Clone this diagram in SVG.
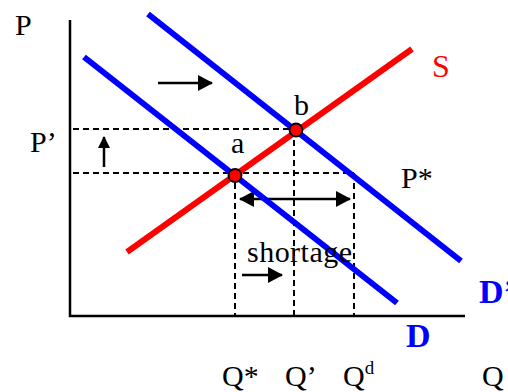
<svg xmlns="http://www.w3.org/2000/svg" width="508" height="392" viewBox="0 0 508 392">
<style>
.t{font-family:"Liberation Serif","Times New Roman",serif;font-size:30px;fill:#000}
.axis{stroke:#000;stroke-width:2.5;fill:none}
.dash{stroke:#000;stroke-width:2;stroke-dasharray:6 4;fill:none}
.arr{stroke:#000;stroke-width:2.5;fill:none}
.dem{stroke:#0000ff;stroke-width:6;fill:none}
.sup{stroke:#ff0000;stroke-width:6;fill:none}
.pt{fill:#ff0000;stroke:#000;stroke-width:1.8}
.bl{font-family:"Liberation Serif","Times New Roman",serif;font-size:34px;font-weight:bold;fill:#0000ff}
</style>
<defs>
<marker id="ah" viewBox="0 0 15 16" refX="14" refY="8" markerWidth="15" markerHeight="16" markerUnits="userSpaceOnUse" orient="auto-start-reverse">
<path d="M0,0 L15,8 L0,16 Z" fill="#000"/>
</marker>
<marker id="ahs" viewBox="0 0 12 12" refX="11" refY="6" markerWidth="12" markerHeight="12" markerUnits="userSpaceOnUse" orient="auto">
<path d="M0,0 L12,6 L0,12 Z" fill="#000"/>
</marker>
</defs>
<g id="axes">
<path class="axis" d="M70,20 L70,316 L465,316"/>
</g>
<g id="connectors">
<path class="dash" d="M73,129 L296,129"/>
<path class="dash" d="M73,173 L354,173"/>
<path class="dash" d="M235,173 L235,316"/>
<path class="dash" d="M294,130 L294,316"/>
<path class="dash" d="M354,173 L354,316"/>
<path class="arr" d="M158,83 L212,83" marker-end="url(#ah)"/>
<path class="arr" d="M104,167 L104,137" marker-end="url(#ahs)"/>
<path class="arr" d="M240,199 L350,199" marker-start="url(#ah)" marker-end="url(#ah)"/>
<path class="arr" d="M242,275 L282,275" marker-end="url(#ah)"/>
</g>
<g id="demand-D">
<path class="dem" d="M84,57 L397,303"/>
</g>
<g id="demand-D2">
<path class="dem" d="M148,14 L461,261"/>
</g>
<g id="supply-S">
<path class="sup" d="M127,252 L412,49"/>
</g>
<g id="point-a">
<circle class="pt" cx="235" cy="175.5" r="6.5"/>
<text class="t" x="231" y="153">a</text>
</g>
<g id="point-b">
<circle class="pt" cx="296" cy="130" r="6.5"/>
<text class="t" x="294" y="115">b</text>
</g>
<g id="labels">
<text class="t" x="15" y="35">P</text>
<text class="t" x="30" y="152">P’</text>
<text class="t" x="401" y="188">P*</text>
<text class="t" x="432" y="77" style="fill:#ff0000;font-size:32px">S</text>
<text class="t" x="247" y="262" textLength="105">shortage</text>
<text class="t" x="222" y="386">Q*</text>
<text class="t" x="285" y="386">Q’</text>
<text class="t" x="343" y="386">Q<tspan font-size="19" dy="-12">d</tspan></text>
<text class="t" x="482" y="386">Q</text>
<text class="bl" x="406" y="347">D</text>
<text class="bl" x="479" y="303">D’</text>
</g>
</svg>
